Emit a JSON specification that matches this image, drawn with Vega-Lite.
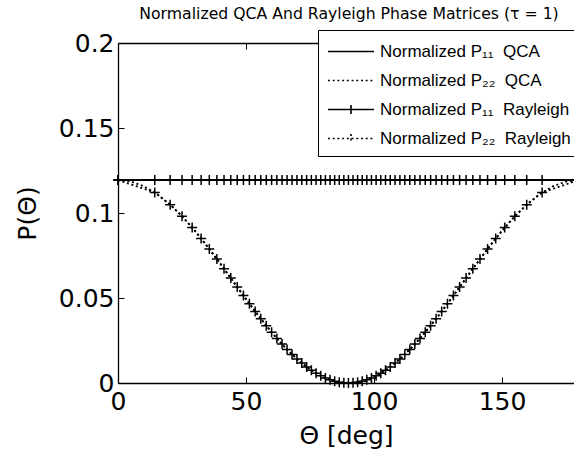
{
  "$schema": "https://vega.github.io/schema/vega-lite/v6.json",
  "width": 456,
  "height": 340,
  "autosize": "none",
  "padding": {"left": 118, "top": 43, "right": 0, "bottom": 69},
  "background": "white",
  "config": {
    "font": "DejaVu Sans",
    "view": {"stroke": null},
    "axis": {
      "domainColor": "black", "domainWidth": 1.3, "tickColor": "black", "tickSize": -6, "tickWidth": 1,
      "labelColor": "black", "labelFontSize": 25, "labelFont": "DejaVu Sans",
      "titleFont": "DejaVu Sans", "titleFontSize": 25, "titleFontWeight": "normal", "titleColor": "black",
      "grid": false, "labelFlush": false
    }
  },
  "title": {"text": "Normalized QCA And Rayleigh Phase Matrices (τ = 1)", "fontSize": 15.7, "font": "DejaVu Sans", "fontWeight": "normal", "color": "black", "offset": 7, "dx": 3},
  "datasets": {
    "rows": [
      {"s":"q11","t":0,"p":0.1194},{"s":"q11","t":5,"p":0.1194},{"s":"q11","t":10,"p":0.1194},{"s":"q11","t":15,"p":0.1194},{"s":"q11","t":20,"p":0.1194},{"s":"q11","t":25,"p":0.1194},{"s":"q11","t":30,"p":0.1194},{"s":"q11","t":35,"p":0.1194},{"s":"q11","t":40,"p":0.1194},{"s":"q11","t":45,"p":0.1194},{"s":"q11","t":50,"p":0.1194},{"s":"q11","t":55,"p":0.1194},{"s":"q11","t":60,"p":0.1194},{"s":"q11","t":65,"p":0.1194},{"s":"q11","t":70,"p":0.1194},{"s":"q11","t":75,"p":0.1194},{"s":"q11","t":80,"p":0.1194},{"s":"q11","t":85,"p":0.1194},{"s":"q11","t":90,"p":0.1194},{"s":"q11","t":95,"p":0.1194},{"s":"q11","t":100,"p":0.1194},{"s":"q11","t":105,"p":0.1194},{"s":"q11","t":110,"p":0.1194},{"s":"q11","t":115,"p":0.1194},{"s":"q11","t":120,"p":0.1194},{"s":"q11","t":125,"p":0.1194},{"s":"q11","t":130,"p":0.1194},{"s":"q11","t":135,"p":0.1194},{"s":"q11","t":140,"p":0.1194},{"s":"q11","t":145,"p":0.1194},{"s":"q11","t":150,"p":0.1194},{"s":"q11","t":155,"p":0.1194},{"s":"q11","t":160,"p":0.1194},{"s":"q11","t":165,"p":0.1194},{"s":"q11","t":170,"p":0.1194},{"s":"q11","t":175,"p":0.1194},{"s":"q11","t":180,"p":0.1194},
      {"s":"q22","t":0,"p":0.1194},{"s":"q22","t":5,"p":0.1185},{"s":"q22","t":10,"p":0.1158},{"s":"q22","t":15,"p":0.1114},{"s":"q22","t":20,"p":0.1054},{"s":"q22","t":25,"p":0.0981},{"s":"q22","t":30,"p":0.0896},{"s":"q22","t":35,"p":0.0801},{"s":"q22","t":40,"p":0.0701},{"s":"q22","t":45,"p":0.0597},{"s":"q22","t":50,"p":0.0493},{"s":"q22","t":55,"p":0.0393},{"s":"q22","t":60,"p":0.0299},{"s":"q22","t":65,"p":0.0213},{"s":"q22","t":70,"p":0.0140},{"s":"q22","t":75,"p":0.0080},{"s":"q22","t":80,"p":0.0036},{"s":"q22","t":85,"p":0.0009},{"s":"q22","t":90,"p":0},{"s":"q22","t":95,"p":0.0009},{"s":"q22","t":100,"p":0.0036},{"s":"q22","t":105,"p":0.0080},{"s":"q22","t":110,"p":0.0140},{"s":"q22","t":115,"p":0.0213},{"s":"q22","t":120,"p":0.0299},{"s":"q22","t":125,"p":0.0393},{"s":"q22","t":130,"p":0.0493},{"s":"q22","t":135,"p":0.0597},{"s":"q22","t":140,"p":0.0701},{"s":"q22","t":145,"p":0.0801},{"s":"q22","t":150,"p":0.0896},{"s":"q22","t":155,"p":0.0981},{"s":"q22","t":160,"p":0.1054},{"s":"q22","t":165,"p":0.1114},{"s":"q22","t":170,"p":0.1158},{"s":"q22","t":175,"p":0.1185},{"s":"q22","t":180,"p":0.1194},
      {"s":"r11","t":0,"p":0.1194},{"s":"r11","t":14.36,"p":0.1194},{"s":"r11","t":20.36,"p":0.1194},{"s":"r11","t":25.01,"p":0.1194},{"s":"r11","t":28.96,"p":0.1194},{"s":"r11","t":32.47,"p":0.1194},{"s":"r11","t":35.66,"p":0.1194},{"s":"r11","t":38.62,"p":0.1194},{"s":"r11","t":41.41,"p":0.1194},{"s":"r11","t":44.05,"p":0.1194},{"s":"r11","t":46.57,"p":0.1194},{"s":"r11","t":48.99,"p":0.1194},{"s":"r11","t":51.32,"p":0.1194},{"s":"r11","t":53.58,"p":0.1194},{"s":"r11","t":55.77,"p":0.1194},{"s":"r11","t":57.91,"p":0.1194},{"s":"r11","t":60.0,"p":0.1194},{"s":"r11","t":62.05,"p":0.1194},{"s":"r11","t":64.06,"p":0.1194},{"s":"r11","t":66.03,"p":0.1194},{"s":"r11","t":67.98,"p":0.1194},{"s":"r11","t":69.89,"p":0.1194},{"s":"r11","t":71.79,"p":0.1194},{"s":"r11","t":73.67,"p":0.1194},{"s":"r11","t":75.52,"p":0.1194},{"s":"r11","t":77.36,"p":0.1194},{"s":"r11","t":79.19,"p":0.1194},{"s":"r11","t":81.01,"p":0.1194},{"s":"r11","t":82.82,"p":0.1194},{"s":"r11","t":84.62,"p":0.1194},{"s":"r11","t":86.42,"p":0.1194},{"s":"r11","t":88.21,"p":0.1194},{"s":"r11","t":90.0,"p":0.1194},{"s":"r11","t":91.79,"p":0.1194},{"s":"r11","t":93.58,"p":0.1194},{"s":"r11","t":95.38,"p":0.1194},{"s":"r11","t":97.18,"p":0.1194},{"s":"r11","t":98.99,"p":0.1194},{"s":"r11","t":100.81,"p":0.1194},{"s":"r11","t":102.64,"p":0.1194},{"s":"r11","t":104.48,"p":0.1194},{"s":"r11","t":106.33,"p":0.1194},{"s":"r11","t":108.21,"p":0.1194},{"s":"r11","t":110.11,"p":0.1194},{"s":"r11","t":112.02,"p":0.1194},{"s":"r11","t":113.97,"p":0.1194},{"s":"r11","t":115.94,"p":0.1194},{"s":"r11","t":117.95,"p":0.1194},{"s":"r11","t":120.0,"p":0.1194},{"s":"r11","t":122.09,"p":0.1194},{"s":"r11","t":124.23,"p":0.1194},{"s":"r11","t":126.42,"p":0.1194},{"s":"r11","t":128.68,"p":0.1194},{"s":"r11","t":131.01,"p":0.1194},{"s":"r11","t":133.43,"p":0.1194},{"s":"r11","t":135.95,"p":0.1194},{"s":"r11","t":138.59,"p":0.1194},{"s":"r11","t":141.38,"p":0.1194},{"s":"r11","t":144.34,"p":0.1194},{"s":"r11","t":147.53,"p":0.1194},{"s":"r11","t":151.04,"p":0.1194},{"s":"r11","t":154.99,"p":0.1194},{"s":"r11","t":159.64,"p":0.1194},{"s":"r11","t":165.64,"p":0.1194},{"s":"r11","t":180,"p":0.1194},
      {"s":"r22","t":0,"p":0.1194},{"s":"r22","t":14.36,"p":0.1121},{"s":"r22","t":20.36,"p":0.1049},{"s":"r22","t":25.01,"p":0.0981},{"s":"r22","t":28.96,"p":0.0914},{"s":"r22","t":32.47,"p":0.0850},{"s":"r22","t":35.66,"p":0.0788},{"s":"r22","t":38.62,"p":0.0729},{"s":"r22","t":41.41,"p":0.0672},{"s":"r22","t":44.05,"p":0.0617},{"s":"r22","t":46.57,"p":0.0564},{"s":"r22","t":48.99,"p":0.0514},{"s":"r22","t":51.32,"p":0.0466},{"s":"r22","t":53.58,"p":0.0421},{"s":"r22","t":55.77,"p":0.0378},{"s":"r22","t":57.91,"p":0.0337},{"s":"r22","t":60.0,"p":0.0299},{"s":"r22","t":62.05,"p":0.0262},{"s":"r22","t":64.06,"p":0.0229},{"s":"r22","t":66.03,"p":0.0197},{"s":"r22","t":67.98,"p":0.0168},{"s":"r22","t":69.89,"p":0.0141},{"s":"r22","t":71.79,"p":0.0117},{"s":"r22","t":73.67,"p":0.0094},{"s":"r22","t":75.52,"p":0.0075},{"s":"r22","t":77.36,"p":0.0057},{"s":"r22","t":79.19,"p":0.0042},{"s":"r22","t":81.01,"p":0.0029},{"s":"r22","t":82.82,"p":0.0019},{"s":"r22","t":84.62,"p":0.0010},{"s":"r22","t":86.42,"p":0.0005},{"s":"r22","t":88.21,"p":0.0001},{"s":"r22","t":90.0,"p":0},{"s":"r22","t":91.79,"p":0.0001},{"s":"r22","t":93.58,"p":0.0005},{"s":"r22","t":95.38,"p":0.0010},{"s":"r22","t":97.18,"p":0.0019},{"s":"r22","t":98.99,"p":0.0029},{"s":"r22","t":100.81,"p":0.0042},{"s":"r22","t":102.64,"p":0.0057},{"s":"r22","t":104.48,"p":0.0075},{"s":"r22","t":106.33,"p":0.0094},{"s":"r22","t":108.21,"p":0.0117},{"s":"r22","t":110.11,"p":0.0141},{"s":"r22","t":112.02,"p":0.0168},{"s":"r22","t":113.97,"p":0.0197},{"s":"r22","t":115.94,"p":0.0229},{"s":"r22","t":117.95,"p":0.0262},{"s":"r22","t":120.0,"p":0.0299},{"s":"r22","t":122.09,"p":0.0337},{"s":"r22","t":124.23,"p":0.0378},{"s":"r22","t":126.42,"p":0.0421},{"s":"r22","t":128.68,"p":0.0466},{"s":"r22","t":131.01,"p":0.0514},{"s":"r22","t":133.43,"p":0.0564},{"s":"r22","t":135.95,"p":0.0617},{"s":"r22","t":138.59,"p":0.0672},{"s":"r22","t":141.38,"p":0.0729},{"s":"r22","t":144.34,"p":0.0788},{"s":"r22","t":147.53,"p":0.0850},{"s":"r22","t":151.04,"p":0.0914},{"s":"r22","t":154.99,"p":0.0981},{"s":"r22","t":159.64,"p":0.1049},{"s":"r22","t":165.64,"p":0.1121},{"s":"r22","t":180,"p":0.1194}
    ]
  },
  "data": {"name": "rows"},
  "resolve": {"axis": {"x": "independent"}},
  "layer": [
    {
      "mark": {"type": "line", "strokeWidth": 1.8, "color": "black", "clip": true, "strokeCap": "butt"},
      "encoding": {
        "x": {"field": "t", "type": "quantitative", "scale": {"domain": [0, 178.1], "nice": false, "zero": false},
              "axis": {"orient": "bottom", "values": [0, 50, 100, 150], "title": "Θ [deg]", "labelPadding": 12, "titlePadding": 9}},
        "y": {"field": "p", "type": "quantitative", "scale": {"domain": [0, 0.2], "nice": false},
              "axis": {"values": [0, 0.05, 0.1, 0.15, 0.2], "format": "~g", "title": "P(Θ)", "labelPadding": 10, "titlePadding": 18}},
        "strokeDash": {
          "field": "s", "type": "nominal",
          "scale": {"domain": ["q11", "q22", "r11", "r22"], "range": [[1, 0], [2, 2.7], [1, 0], [2, 2.7]]},
          "legend": {
            "orient": "none", "legendX": 200, "legendY": -13, "title": null,
            "strokeColor": "black", "fillColor": "white", "padding": 9,
            "labelFontSize": 17, "labelColor": "black", "labelFont": "Liberation Sans", "labelLimit": 400,
            "symbolSize": 529, "symbolStrokeWidth": 1.6, "symbolStrokeColor": "black",
            "labelOffset": 28, "rowPadding": 8,
            "labelExpr": "datum.value == 'q11' ? 'Normalized P₁₁\u00a0 QCA' : datum.value == 'q22' ? 'Normalized P₂₂\u00a0 QCA' : datum.value == 'r11' ? 'Normalized P₁₁\u00a0 Rayleigh' : 'Normalized P₂₂\u00a0 Rayleigh'",
            "encode": {
              "symbols": {
                "update": {
                  "shape": {"signal": "datum.value == 'q11' ? 'M-1,0H3' : datum.value == 'q22' ? 'M-1,0h0.17M-0.59,0h0.17M-0.18,0h0.17M0.23,0h0.17M0.64,0h0.17M1.05,0h0.17M1.46,0h0.17M1.87,0h0.17M2.28,0h0.17M2.69,0h0.17' : datum.value == 'r11' ? 'M-1,0H3M1,-0.4V0.4' : 'M-1,0h0.17M-0.59,0h0.17M-0.18,0h0.17M0.23,0h0.17M0.64,0h0.17M1.05,0h0.17M1.46,0h0.17M1.87,0h0.17M2.28,0h0.17M2.69,0h0.17M1,-0.4V0.4'"},
                  "strokeDash": {"value": [1, 0]},
                  "stroke": {"value": "black"},
                  "fill": {"value": "transparent"}
                }
              }
            }
          }
        }
      }
    },
    {
      "transform": [{"filter": "datum.s == 'r11' || datum.s == 'r22'"}],
      "mark": {"type": "point", "shape": "M-1,0H1M0,-1V1", "filled": false, "size": 100, "strokeWidth": 1.5, "color": "black", "opacity": 1},
      "encoding": {
        "x": {"field": "t", "type": "quantitative",
              "axis": {"orient": "top", "values": [0, 50, 100, 150], "labels": false, "title": null}},
        "y": {"field": "p", "type": "quantitative"}
      }
    }
  ]
}
